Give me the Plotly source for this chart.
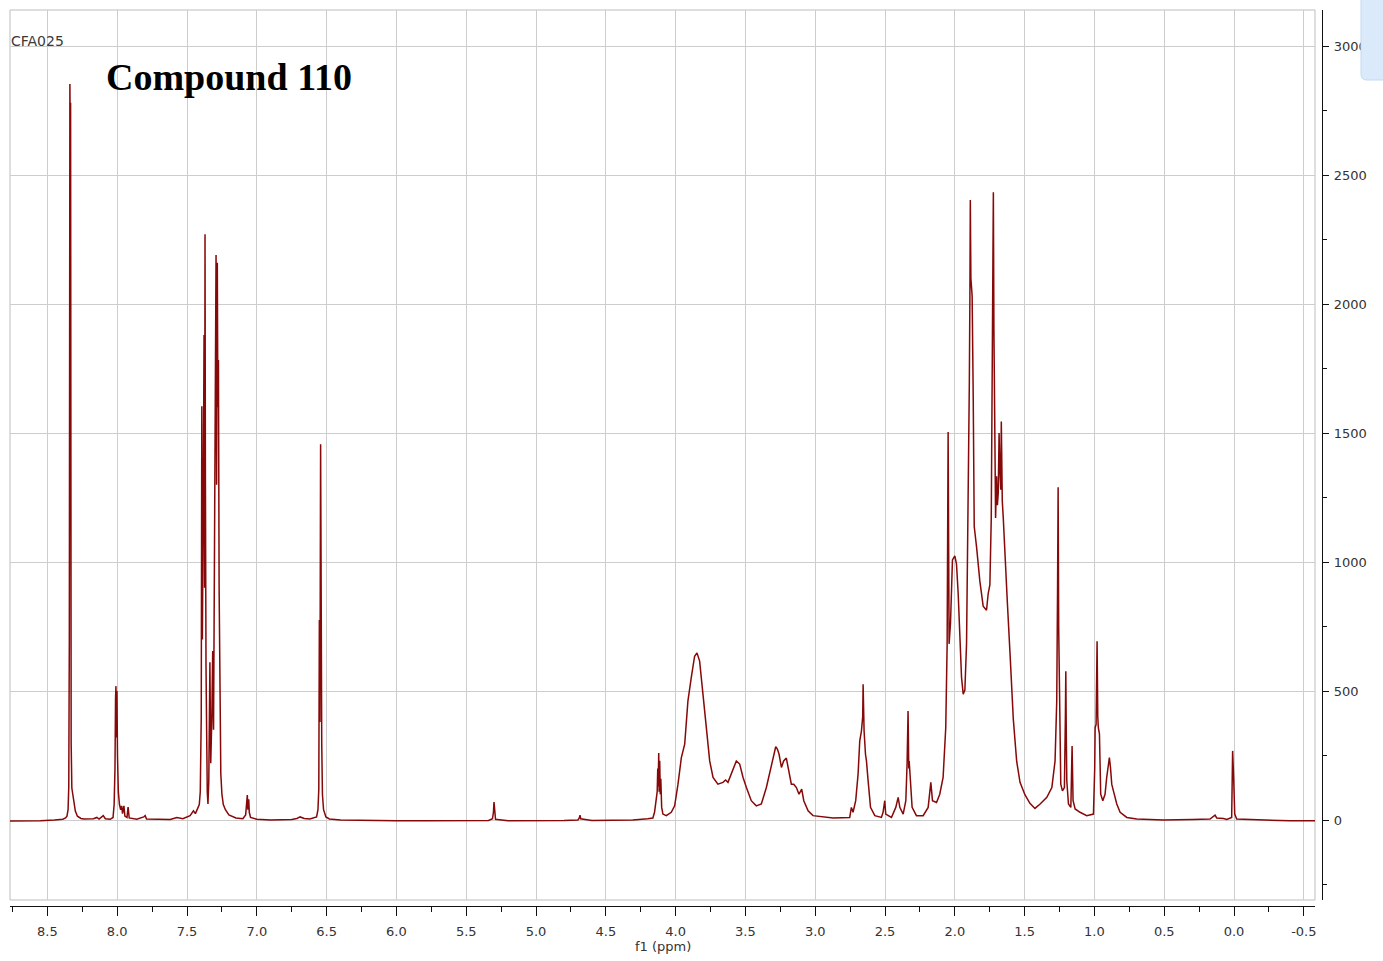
import plotly.graph_objects as go

# 1H NMR trace (ppm, intensity) split by spectral region
aromatic = [
    (8.768, -4), (8.65, -4), (8.55, -3), (8.45, 0), (8.39, 3), (8.37, 8), (8.36, 15),
    (8.352, 40), (8.347, 130), (8.343, 700), (8.341, 2787), (8.339, 2853), (8.336, 2600),
    (8.334, 2780), (8.333, 701), (8.330, 300), (8.325, 124), (8.318, 100), (8.310, 60),
    (8.300, 35), (8.285, 15), (8.260, 6), (8.240, 4), (8.170, 5), (8.146, 10), (8.130, 4),
    (8.100, 17), (8.085, 5), (8.050, 3), (8.030, 10), (8.022, 60), (8.016, 200), (8.012, 470),
    (8.009, 519), (8.006, 320), (8.002, 500), (7.998, 250), (7.992, 110), (7.984, 60),
    (7.975, 40), (7.968, 55), (7.962, 25), (7.952, 55), (7.945, 15), (7.930, 10),
    (7.922, 50), (7.914, 8), (7.860, 3), (7.810, 12), (7.800, 17), (7.790, 4), (7.700, 3),
    (7.620, 2), (7.573, 10), (7.530, 5), (7.478, 17), (7.454, 36), (7.440, 25), (7.425, 45),
    (7.412, 60), (7.405, 110), (7.398, 400), (7.394, 1604), (7.390, 700), (7.384, 1200),
    (7.378, 1880), (7.374, 900), (7.371, 2271), (7.368, 1300), (7.364, 600), (7.360, 250),
    (7.355, 110), (7.350, 62), (7.344, 150), (7.336, 612), (7.330, 220), (7.322, 400),
    (7.316, 655), (7.310, 350), (7.304, 900), (7.298, 1500), (7.292, 2190), (7.288, 1300),
    (7.283, 2160), (7.279, 1600), (7.275, 1783), (7.270, 900), (7.265, 400), (7.258, 180),
    (7.250, 100), (7.240, 60), (7.225, 40), (7.200, 20), (7.150, 8), (7.100, 5), (7.080, 20),
    (7.072, 60), (7.068, 97), (7.064, 40), (7.058, 80), (7.054, 30), (7.045, 10), (7.000, 3),
    (6.900, 0), (6.750, 2), (6.713, 6), (6.690, 12), (6.660, 6), (6.620, 4), (6.590, 8),
    (6.572, 12), (6.562, 40), (6.556, 120), (6.552, 775), (6.548, 380), (6.543, 1457),
    (6.539, 600), (6.535, 300), (6.530, 100), (6.522, 40), (6.505, 12), (6.480, 4),
]

midfield = [
    (6.40, 0), (6.20, -2), (6.00, -3), (5.80, -3), (5.50, -3), (5.34, -2), (5.312, 5),
    (5.305, 30), (5.301, 70), (5.297, 25), (5.290, 3), (5.200, -3), (5.000, -3),
    (4.800, -2), (4.700, 0), (4.690, 8), (4.685, 19), (4.680, 5), (4.600, -2), (4.450, 0),
    (4.306, 0), (4.200, 5), (4.163, 8), (4.151, 30), (4.140, 70), (4.132, 110), (4.128, 200),
    (4.125, 130), (4.121, 260), (4.118, 110), (4.114, 230), (4.110, 100), (4.106, 160),
    (4.100, 50), (4.091, 23), (4.067, 17), (4.031, 30), (4.007, 55), (3.983, 139),
    (3.959, 242), (3.935, 294), (3.912, 461), (3.888, 552), (3.864, 635), (3.847, 648),
    (3.828, 616), (3.804, 487), (3.780, 345), (3.756, 229), (3.732, 165), (3.697, 139),
    (3.661, 146), (3.642, 155), (3.625, 146), (3.594, 191), (3.565, 229), (3.541, 217),
    (3.517, 165), (3.493, 126), (3.458, 75), (3.422, 55), (3.386, 62), (3.350, 126),
    (3.314, 217), (3.297, 249), (3.283, 284), (3.271, 275), (3.259, 255), (3.242, 204),
    (3.226, 229), (3.207, 240), (3.188, 191), (3.171, 139), (3.154, 139), (3.135, 126),
    (3.116, 100), (3.097, 120), (3.082, 75), (3.051, 36), (3.016, 17), (2.872, 8),
    (2.753, 10), (2.741, 49), (2.729, 30), (2.710, 75), (2.693, 178), (2.681, 307),
    (2.669, 345), (2.660, 400), (2.657, 526), (2.654, 380), (2.650, 345), (2.640, 255),
    (2.633, 229), (2.621, 152), (2.604, 49), (2.573, 17), (2.526, 10), (2.514, 30),
    (2.502, 75), (2.495, 23), (2.454, 10), (2.423, 49), (2.406, 88), (2.394, 49),
    (2.370, 23), (2.351, 75), (2.342, 217), (2.335, 423), (2.330, 200), (2.327, 229),
    (2.318, 152), (2.306, 49), (2.275, 17), (2.227, 17), (2.191, 49), (2.172, 146),
    (2.160, 75), (2.131, 68), (2.108, 100), (2.084, 165), (2.065, 358),
]

aliphatic = [
    (2.055, 683), (2.048, 1504), (2.041, 683), (2.031, 764), (2.017, 1008), (2.000, 1024),
    (1.988, 992), (1.976, 878), (1.964, 715), (1.952, 553), (1.940, 488), (1.928, 504),
    (1.916, 683), (1.904, 1171), (1.896, 1700), (1.892, 2032), (1.889, 2403), (1.885, 2100),
    (1.876, 2032), (1.868, 1626), (1.861, 1138), (1.844, 1057), (1.821, 927), (1.797, 829),
    (1.773, 813), (1.761, 878), (1.749, 911), (1.739, 1171), (1.733, 1700), (1.728, 2100),
    (1.724, 2434), (1.720, 1900), (1.715, 1561), (1.708, 1171), (1.701, 1333), (1.695, 1220),
    (1.689, 1268), (1.683, 1500), (1.677, 1350), (1.671, 1280), (1.667, 1545), (1.663, 1300),
    (1.660, 1236), (1.653, 1171), (1.641, 1008), (1.624, 846), (1.605, 650), (1.581, 390),
    (1.557, 228), (1.533, 146), (1.498, 98), (1.462, 65), (1.426, 45), (1.389, 62),
    (1.341, 88), (1.305, 126), (1.282, 229), (1.270, 461), (1.264, 900), (1.260, 1290),
    (1.256, 745), (1.250, 500), (1.245, 300), (1.241, 139), (1.229, 113), (1.215, 126),
    (1.208, 400), (1.205, 577), (1.201, 300), (1.198, 152), (1.186, 62), (1.169, 49),
    (1.160, 287), (1.153, 75), (1.138, 43), (1.103, 30), (1.055, 17), (1.007, 23),
    (0.998, 200), (0.995, 358), (0.988, 371), (0.981, 693), (0.976, 400), (0.972, 358),
    (0.964, 333), (0.955, 100), (0.940, 75), (0.924, 100), (0.912, 165), (0.900, 229),
    (0.893, 242), (0.885, 204), (0.876, 139), (0.864, 113), (0.840, 62), (0.816, 30),
    (0.768, 10), (0.697, 4), (0.506, 0), (0.300, 2), (0.172, 4), (0.136, 19), (0.124, 8),
    (0.076, 6), (0.052, 2), (0.017, 10), (0.010, 268), (0.002, 152), (-0.005, 23),
    (-0.019, 4), (-0.200, 0), (-0.400, -3), (-0.580, -3),
]

x_tick_vals = [8.5, 8.0, 7.5, 7.0, 6.5, 6.0, 5.5, 5.0, 4.5, 4.0, 3.5, 3.0, 2.5, 2.0, 1.5, 1.0, 0.5, 0.0, -0.5]
x_tick_text = ["8.5", "8.0", "7.5", "7.0", "6.5", "6.0", "5.5", "5.0", "4.5", "4.0", "3.5",
               "3.0", "2.5", "2.0", "1.5", "1.0", "0.5", "0.0", "-0.5"]
y_tick_vals = [0, 500, 1000, 1500, 2000, 2500, 3000]
y_tick_text = ["0", "500", "1000", "1500", "2000", "2500", "3000"]

trace_points = aromatic + midfield + aliphatic
ppm = [p for p, _ in trace_points]
intensity = [v for _, v in trace_points]

W, H = 1383, 961
ML, MR, MT, MB = 10, 61, 10, 55
PW, PH = W - ML - MR, H - MT - MB

fig = go.Figure()
fig.add_trace(go.Scatter(
    x=ppm, y=intensity, mode="lines",
    line=dict(color="#860808", width=1.5),
    hoverinfo="x+y",
))

tick_font = dict(family="DejaVu Sans", size=13, color="#333333")
x_minor = [v / 4 for v in range(-2, 36) if v % 2]
y_minor = [-250] + [250 + 500 * k for k in range(6)]

fig.update_layout(
    width=W, height=H,
    margin=dict(l=ML, r=MR, t=MT, b=MB),
    paper_bgcolor="white", plot_bgcolor="white",
    showlegend=False,
    xaxis=dict(
        domain=[0, (1315 - ML) / PW],
        range=[8.768, -0.58],
        anchor="free", position=0,
        tickmode="array", tickvals=x_tick_vals, ticktext=x_tick_text,
        showgrid=True, gridcolor="#cdcdcd", gridwidth=1,
        zeroline=False,
        showline=True, linecolor="#111111", linewidth=1.3,
        ticks="outside", ticklen=9, tickwidth=1.3, tickcolor="#111111",
        minor=dict(tickvals=x_minor, ticks="outside", ticklen=5, tickwidth=1.2,
                   tickcolor="#111111", showgrid=False),
        tickfont=tick_font,
        ticklabelstandoff=4,
    ),
    yaxis=dict(
        domain=[6 / PH, 1],
        range=[-310, 3140],
        side="right", anchor="free", position=1,
        tickmode="array", tickvals=y_tick_vals, ticktext=y_tick_text,
        showgrid=True, gridcolor="#cdcdcd", gridwidth=1,
        zeroline=False,
        showline=True, linecolor="#111111", linewidth=1.3,
        ticks="outside", ticklen=6, tickwidth=1.3, tickcolor="#111111",
        minor=dict(tickvals=y_minor, ticks="outside", ticklen=4, tickwidth=1.2,
                   tickcolor="#111111", showgrid=False),
        tickfont=tick_font,
        ticklabelstandoff=2,
    ),
)

# plot frame
fig.add_shape(type="rect", xref="x domain", yref="y domain", x0=0, x1=1, y0=0, y1=1,
              line=dict(color="#bdbdbd", width=1), layer="below")

# side panel in the top-right corner
def px_x(px):
    return (px - ML) / PW

def px_y(py):
    return (H - MB - py) / PH

r = 6
panel_path = (
    f"M {px_x(1361)},{px_y(-2)} "
    f"L {px_x(1361)},{px_y(80 - r)} "
    f"Q {px_x(1361)},{px_y(80)} {px_x(1361 + r)},{px_y(80)} "
    f"L {px_x(1390)},{px_y(80)} L {px_x(1390)},{px_y(-2)} Z"
)
fig.add_shape(type="path", xref="paper", yref="paper", path=panel_path,
              fillcolor="#dbeafb", line=dict(color="#c3d9f0", width=1), layer="above")

fig.add_annotation(text="CFA025", xref="paper", yref="paper",
                   x=px_x(9), y=px_y(41), xanchor="left", yanchor="middle",
                   showarrow=False, font=dict(family="DejaVu Sans", size=14, color="#3a3a3a"))
fig.add_annotation(text="<b>Compound 110</b>", xref="paper", yref="paper",
                   x=px_x(104), y=px_y(77), xanchor="left", yanchor="middle",
                   showarrow=False, font=dict(family="Liberation Serif", size=38, color="#000000"))
fig.add_annotation(text="f1 (ppm)", xref="paper", yref="paper",
                   x=px_x(663), y=px_y(946), xanchor="center", yanchor="middle",
                   showarrow=False, font=dict(family="DejaVu Sans", size=13, color="#333333"))

fig.write_html("out.html")
